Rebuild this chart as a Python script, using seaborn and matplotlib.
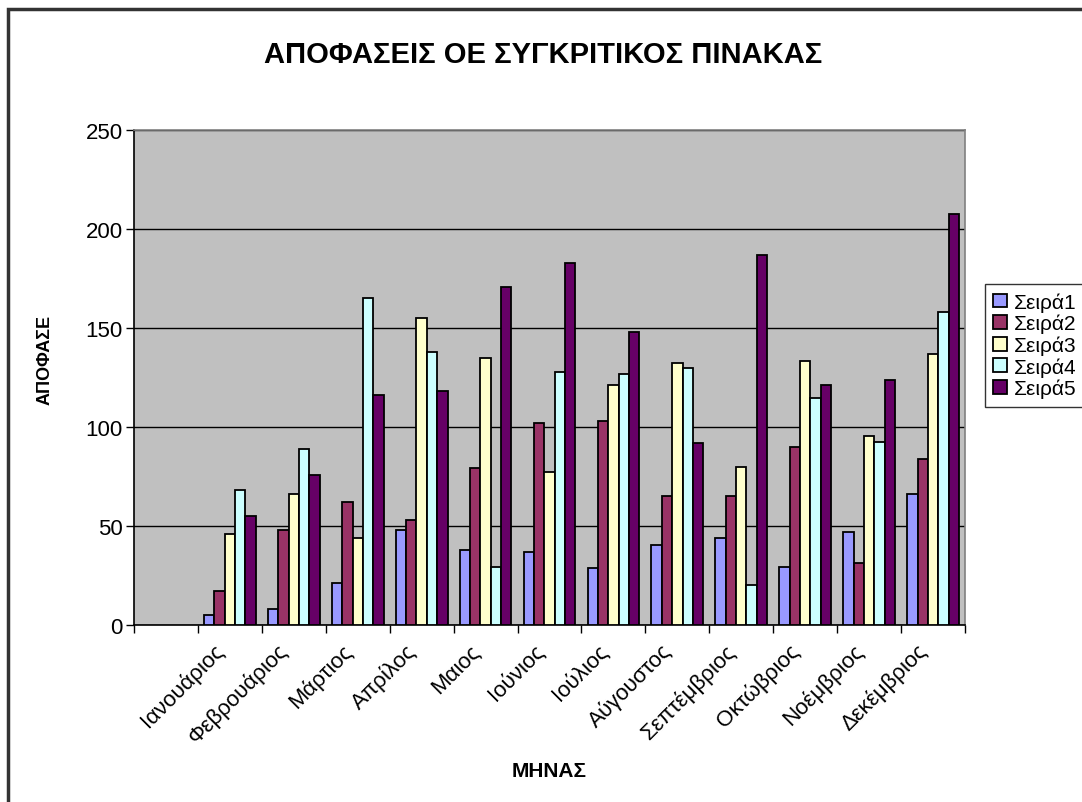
import pandas as pd
import seaborn as sns
import matplotlib.pyplot as plt
import matplotlib.transforms as mtransforms
from matplotlib.patches import Rectangle

# first slot of the category axis is empty in the original chart
months = ["", "Ιανουάριος", "Φεβρουάριος", "Μάρτιος", "Απρίλος", "Μαιος", "Ιούνιος",
          "Ιούλιος", "Αύγουστος", "Σεπτέμβριος", "Οκτώβριος", "Νοέμβριος", "Δεκέμβριος"]
series = ["Σειρά1", "Σειρά2", "Σειρά3", "Σειρά4", "Σειρά5"]

s1 = [5, 8, 21, 48, 38, 37, 29, 40.5, 44, 29.5, 47, 66]
s2 = [17, 48, 62, 53, 79.5, 102, 103, 65, 65, 90, 31.5, 84]
s3 = [46, 66, 44, 155, 135, 77.5, 121, 132.5, 80, 133.5, 95.5, 137]
s4 = [68, 89, 165, 138, 29.5, 128, 127, 130, 20, 114.5, 92.5, 158]
s5 = [55, 76, 116, 118, 170.5, 183, 148, 92, 187, 121, 123.5, 207.5]

colors = ["#9999FF", "#993366", "#FFFFCC", "#CCFFFF", "#660066"]


def build_frame():
    rows = []
    for name, vals in zip(series, [s1, s2, s3, s4, s5]):
        for m, v in zip(months[1:], vals):
            rows.append({"month": m, "series": name, "value": v})
    return pd.DataFrame(rows)


def main():
    df = build_frame()
    sns.set_style("white")
    plt.rcParams["font.family"] = ["Liberation Sans", "DejaVu Sans"]
    for key in ["text.color", "axes.labelcolor", "xtick.color", "ytick.color"]:
        plt.rcParams[key] = "black"

    W, H = 1082, 803
    fig = plt.figure(figsize=(W / 100, H / 100), dpi=100)
    ax = fig.add_axes([134 / W, 1 - 626 / H, (965 - 134) / W, (626 - 131) / H])
    ax.set_facecolor("#C0C0C0")

    sns.barplot(data=df, x="month", y="value", hue="series", order=months,
                hue_order=series, palette=colors, width=0.81, edgecolor="black",
                linewidth=1.3, saturation=1, errorbar=None, ax=ax, zorder=3)

    # y axis
    ax.set_ylim(0, 250)
    ax.set_yticks(range(0, 251, 50))
    ax.yaxis.grid(True, color="black", linewidth=1)
    ax.set_axisbelow(True)
    ax.tick_params(axis="y", labelsize=16, length=6, width=1, direction="out",
                   left=True, color="black", pad=2)

    # x axis: labels at centers, tick marks between categories
    ax.set_xlim(-0.5, len(months) - 0.5)
    ax.set_xticks(range(len(months)))
    ax.set_xticklabels(months, rotation=45, ha="right", va="center",
                       rotation_mode="anchor")
    ax.set_xticks([i - 0.5 for i in range(len(months) + 1)], minor=True)
    ax.tick_params(axis="x", which="major", length=0, labelsize=16, pad=16)
    ax.tick_params(axis="x", which="minor", length=6, width=1, direction="out",
                   bottom=True, color="black")
    shift = mtransforms.ScaledTranslation(-9 / 100, 0, fig.dpi_scale_trans)
    for lbl in ax.get_xticklabels():
        lbl.set_transform(lbl.get_transform() + shift)

    for side in ["top", "right"]:
        ax.spines[side].set_color("#808080")
        ax.spines[side].set_linewidth(1.2)
    for side in ["left", "bottom"]:
        ax.spines[side].set_color("black")
        ax.spines[side].set_linewidth(1.2)

    ax.set_xlabel("")
    ax.set_ylabel("")
    fig.text(549 / W, 1 - 772 / H, "ΜΗΝΑΣ", ha="center", va="center",
             fontsize=15, fontweight="bold")
    fig.text(45 / W, 1 - 360 / H, "ΑΠΟΦΑΣΕ", ha="center", va="center",
             rotation=90, fontsize=13, fontweight="bold")
    fig.text(543 / W, 1 - 55 / H, "ΑΠΟΦΑΣΕΙΣ ΟΕ ΣΥΓΚΡΙΤΙΚΟΣ ΠΙΝΑΚΑΣ",
             ha="center", va="center", fontsize=21, fontweight="bold")

    leg = ax.legend(loc="upper left", bbox_to_anchor=(985 / W, 1 - 285 / H),
                    bbox_transform=fig.transFigure, fontsize=15, frameon=True,
                    fancybox=False, edgecolor="black", handlelength=0.65,
                    handleheight=0.65, handletextpad=0.35, labelspacing=0.1,
                    borderpad=0.4, borderaxespad=0)
    leg.get_frame().set_linewidth(1)

    # outer chart border, running off the right and bottom edges
    fig.patches.append(Rectangle((8 / W, -0.1), 1.2, 1.1 - 10 / H,
                                 transform=fig.transFigure, fill=False,
                                 edgecolor="#333333", linewidth=2.5))

    fig.savefig("out.png", dpi=100)


if __name__ == "__main__":
    main()
